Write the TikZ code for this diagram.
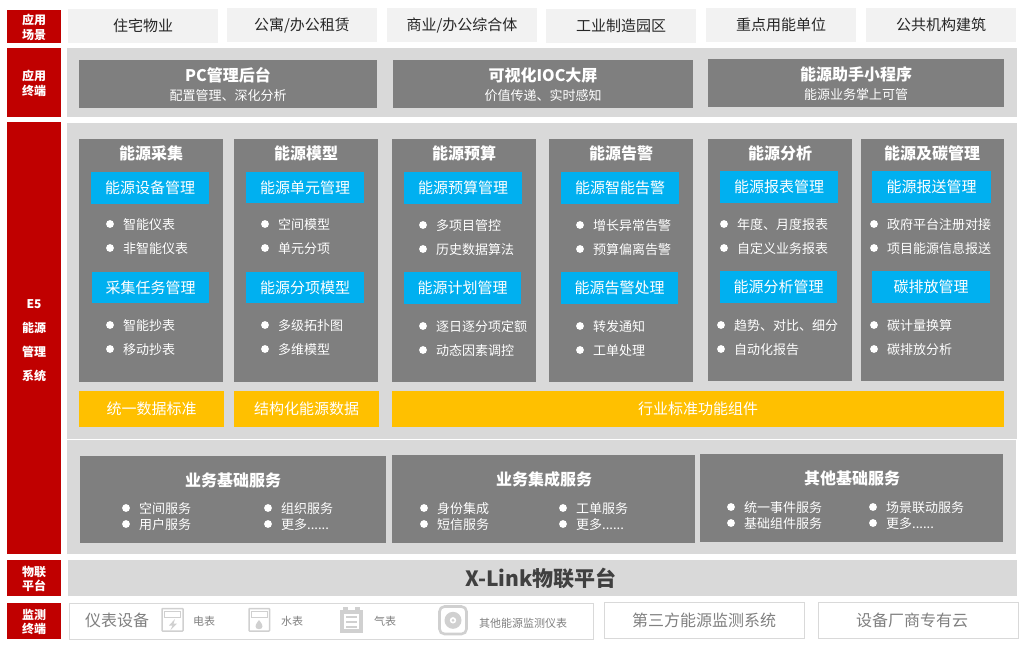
\documentclass[tikz,border=0pt]{standalone}
\usepackage{fontspec}
\setmainfont{Noto Sans CJK SC}
\definecolor{cred}{HTML}{C00000}
\definecolor{pale}{HTML}{F2F2F2}
\definecolor{band}{HTML}{D9D9D9}
\definecolor{mid}{HTML}{7F7F7F}
\definecolor{sky}{HTML}{00B0F0}
\definecolor{gold}{HTML}{FFC000}
\definecolor{ink}{HTML}{262626}
\definecolor{plat}{HTML}{404040}
\definecolor{icon}{HTML}{D0D0D0}
\definecolor{faint}{HTML}{808080}
\newcommand{\fs}[1]{\fontsize{#1}{#1}\selectfont}
\newcount\nodenum
\tikzset{
  every node/.style={/utils/exec={\global\advance\nodenum by 1},name=n\the\nodenum},
  redbox/.style={fill=cred},
  palebox/.style={fill=pale},
  bandbox/.style={fill=band},
  greybox/.style={fill=mid},
  skybox/.style={fill=sky},
  goldbox/.style={fill=gold},
  tag/.style={text=white,font=\fs{12}\bfseries,align=center,inner sep=0pt,execute at begin node={\baselineskip=14.5pt}},
  plain/.style={inner sep=0pt,anchor=center},
  itemtext/.style={inner sep=0pt,anchor=west,text=white,font=\fs{13}},
  dim/.style={inner sep=0pt,anchor=west,text=faint},
  outline/.style={draw=band,line width=1pt,fill=white},
  ico/.style={draw=icon,line width=1.5pt,fill=white,rounded corners=0.6pt},
  icofill/.style={fill=icon},
}
\newcommand{\tagbox}[5]{\path[redbox] (#1,#2) rectangle (#3,#4);
  \node[tag] at ({(#1+#3)/2},{(#2+#4)/2+1}) {#5};}
\newcommand{\scene}[5]{\path[palebox] (#1,#2) rectangle (#3,#4);
  \node[plain,text=ink,font=\fs{15}] at ({(#1+#3)/2},{(#2+#4)/2}) {#5};}
\newcommand{\term}[6]{\path[greybox] (#1,#2) rectangle (#3,#4);
  \node[plain,text=white,font=\fs{16}\bfseries] at ({(#1+#3)/2},{(#2+#4)/2-9}) {#5};
  \node[plain,text=white,font=\fs{13}] at ({(#1+#3)/2},{(#2+#4)/2+11.5}) {#6};}
\newcommand{\head}[3]{\node[plain,text=white,font=\fs{16}\bfseries] at (#1,#2) {#3};}
\newcommand{\skyb}[5]{\path[skybox] (#1,#2) rectangle (#3,#4);
  \node[plain,text=white,font=\fs{15}] at ({(#1+#3)/2},{(#2+#4)/2}) {#5};}
\newcommand{\bul}[4]{\fill[white] (#1,#2) circle (3.9);
  \node[itemtext] at (#3,#2+1) {#4};}
\newcommand{\goldb}[5]{\path[goldbox] (#1,#2) rectangle (#3,#4);
  \node[plain,text=white,font=\fs{15}] at ({(#1+#3)/2},{(#2+#4)/2}) {#5};}
\begin{document}
\begin{tikzpicture}[x=1pt,y=-1pt]
\useasboundingbox (0,0) rectangle (1028,649);
\fill[white] (0,0) rectangle (1028,649);
% tags
\tagbox{7}{10}{61}{43}{应用\\场景}
\tagbox{7}{48}{61}{117}{应用\\终端}
\path[redbox] (7,122) rectangle (61,554);
\node[tag] at (34,340.5) {E5\\[9.5pt]能源\\[9.5pt]管理\\[9.5pt]系统};
\tagbox{7}{560}{61}{596}{物联\\平台}
\tagbox{7}{603}{61}{639}{监测\\终端}
% scenes
\scene{68}{9}{218}{43}{住宅物业}
\scene{227}{8}{377}{42}{公寓/办公租赁}
\scene{387}{8}{537}{42}{商业/办公综合体}
\scene{546}{9}{696}{43}{工业制造园区}
\scene{706}{8}{856}{42}{重点用能单位}
\scene{866}{8}{1016}{42}{公共机构建筑}
% bands
\path[bandbox] (67,48) rectangle (1017,117);
\path[bandbox] (67,123) rectangle (1017,439);
\path[bandbox] (67,440) rectangle (1016,554);
\path[bandbox] (68,560) rectangle (1017,596);
% terminals
\term{79}{60}{377}{108}{PC管理后台}{配置管理、深化分析}
\term{393}{60}{693}{108}{可视化IOC大屏}{价值传递、实时感知}
\term{708}{59}{1004}{107}{能源助手小程序}{能源业务掌上可管}
% columns
\path[greybox] (79,139) rectangle (223,382);
\path[greybox] (234,139) rectangle (378,382);
\path[greybox] (392,139) rectangle (536,382);
\path[greybox] (549,139) rectangle (693,382);
\path[greybox] (708,139) rectangle (852,381);
\path[greybox] (861,139) rectangle (1004,381);
\head{151}{153}{能源采集}
\head{306}{153}{能源模型}
\head{464}{153}{能源预算}
\head{621}{153}{能源告警}
\head{780}{153}{能源分析}
\head{932}{153}{能源及碳管理}
\skyb{91}{172}{209}{204}{能源设备管理}
\skyb{246}{172}{364}{203}{能源单元管理}
\skyb{404}{172}{522}{204}{能源预算管理}
\skyb{561}{172}{679}{204}{能源智能告警}
\skyb{720}{171}{838}{203}{能源报表管理}
\skyb{872}{171}{991}{203}{能源报送管理}
\skyb{92}{272}{209}{303}{采集任务管理}
\skyb{246}{272}{364}{303}{能源分项模型}
\skyb{404}{272}{521}{304}{能源计划管理}
\skyb{561}{272}{678}{304}{能源告警处理}
\skyb{720}{271}{837}{303}{能源分析管理}
\skyb{872}{271}{990}{303}{碳排放管理}
\bul{110}{224}{123}{智能仪表}
\bul{110}{248}{123}{非智能仪表}
\bul{265}{224}{278}{空间模型}
\bul{265}{248}{278}{单元分项}
\bul{423}{225}{436}{多项目管控}
\bul{423}{249}{436}{历史数据算法}
\bul{580}{225}{593}{增长异常告警}
\bul{580}{249}{593}{预算偏离告警}
\bul{724}{224}{737}{年度、月度报表}
\bul{724}{248}{737}{自定义业务报表}
\bul{874}{224}{887}{政府平台注册对接}
\bul{874}{248}{887}{项目能源信息报送}
\bul{110}{325}{123}{智能抄表}
\bul{110}{349}{123}{移动抄表}
\bul{265}{325}{278}{多级拓扑图}
\bul{265}{349}{278}{多维模型}
\bul{423}{326}{436}{逐日逐分项定额}
\bul{423}{350}{436}{动态因素调控}
\bul{580}{326}{593}{转发通知}
\bul{580}{350}{593}{工单处理}
\bul{721}{325}{734}{趋势、对比、细分}
\bul{721}{349}{734}{自动化报告}
\bul{874}{325}{887}{碳计量换算}
\bul{874}{349}{887}{碳排放分析}
% gold
\goldb{79}{391}{224}{427}{统一数据标准}
\goldb{234}{391}{379}{427}{结构化能源数据}
\goldb{392}{391}{1004}{427}{行业标准功能组件}
% services
\path[greybox] (80,456) rectangle (386,543);
\path[greybox] (392,455) rectangle (695,543);
\path[greybox] (700,454) rectangle (1003,542);
\head{233}{480}{业务基础服务}
\head{544}{479}{业务集成服务}
\head{852}{478}{其他基础服务}
\bul{126}{508}{139}{空间服务}
\bul{126}{524}{139}{用户服务}
\bul{268}{508}{281}{组织服务}
\bul{268}{524}{281}{更多......}
\bul{424}{508}{437}{身份集成}
\bul{424}{524}{437}{短信服务}
\bul{563}{508}{576}{工单服务}
\bul{563}{524}{576}{更多......}
\bul{731}{507}{744}{统一事件服务}
\bul{731}{523}{744}{基础组件服务}
\bul{873}{507}{886}{场景联动服务}
\bul{873}{523}{886}{更多......}
% platform
\node[plain,text=plat,font=\fs{21}\bfseries] at (541,578.5) {X-Link物联平台};
% monitoring
\path[outline] (69,603.5) rectangle (593.5,639.5);
\path[outline] (604.5,602.5) rectangle (804.5,638.8);
\path[outline] (818.5,602.5) rectangle (1018.5,638.8);
\node[dim,font=\fs{16}] at (85,620.5) {仪表设备};
\node[plain,text=faint,font=\fs{16}] at (704,620.5) {第三方能源监测系统};
\node[plain,text=faint,font=\fs{16}] at (912,620.5) {设备厂商专有云};
\node[dim,font=\fs{11}] at (193,621.5) {电表};
\node[dim,font=\fs{11}] at (281,621.5) {水表};
\node[dim,font=\fs{11}] at (374,621.5) {气表};
\node[dim,font=\fs{11}] at (479,623) {其他能源监测仪表};
% electric meter
\draw[ico] (162,608.5) rectangle (183,631);
\draw[icon,line width=1pt] (164.5,611) rectangle (180.5,617);
\fill[icofill] (175,619) -- (169,625.5) -- (172.5,625.5) -- (170.5,630) -- (177,623.5) -- (173.5,623.5) -- cycle;
% water meter
\draw[ico] (249,608.5) rectangle (269.5,631);
\draw[icon,line width=1pt] (251.5,611) rectangle (267,617);
\fill[icofill] (259,620) .. controls (256,624) and (255.5,625) .. (255.5,626.5) .. controls (255.5,630) and (262.5,630) .. (262.5,626.5) .. controls (262.5,625) and (262,624) .. (259,620) -- cycle;
% gas meter
\fill[icofill] (340,610) rectangle (363,633);
\fill[icofill] (343,607) rectangle (348,611);
\fill[icofill] (355,607) rectangle (360,611);
\fill[white] (344,614) rectangle (359,629);
\fill[icofill] (346,616) rectangle (357,618);
\fill[icofill] (346,621) rectangle (357,623);
\fill[icofill] (346,625.5) rectangle (357,627.5);
% other meter
\draw[icon,line width=2.6pt,rounded corners=5pt] (439.5,606.5) rectangle (466.5,634);
\fill[icon] (453,620.3) circle (8.5);
\fill[white] (453,620.3) circle (3.2);
\fill[icon] (453,620.3) circle (1.5);
\end{tikzpicture}
\end{document}
